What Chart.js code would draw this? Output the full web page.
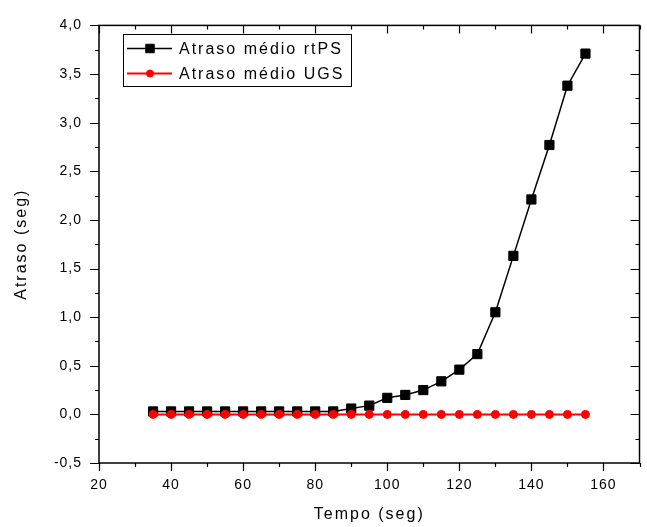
<!DOCTYPE html>
<html>
<head>
<meta charset="utf-8">
<script src="https://cdn.jsdelivr.net/npm/chart.js@4"></script>
<style>
  html, body { margin: 0; background: #fff; }
  #wrap { width: 647px; height: 527px; }
</style>
</head>
<body>
<div id="wrap"><canvas id="chart"></canvas></div>
<script>
// ==================== DATA ====================
const tempo = [35, 40, 45, 50, 55, 60, 65, 70, 75, 80, 85, 90, 95, 100, 105, 110, 115, 120, 125, 130, 135, 140, 145, 150, 155];
const atrasoRtps = [0.03, 0.03, 0.03, 0.03, 0.03, 0.03, 0.03, 0.03, 0.03, 0.03, 0.03, 0.06, 0.09, 0.17, 0.20, 0.25, 0.34, 0.46, 0.62, 1.05, 1.63, 2.21, 2.77, 3.38, 3.71];
const atrasoUgs = [0, 0, 0, 0, 0, 0, 0, 0, 0, 0, 0, 0, 0, 0, 0, 0, 0, 0, 0, 0, 0, 0, 0, 0, 0];
const xTicks = [20, 40, 60, 80, 100, 120, 140, 160];
const yTicks = [-0.5, 0, 0.5, 1, 1.5, 2, 2.5, 3, 3.5, 4];
const seriesNames = ["Atraso médio rtPS", "Atraso médio UGS"];

const FONT = "'Liberation Sans', Arial, sans-serif";

// ==================== PLUGIN: frame, ticks, titles, legend ====================
const framePlugin = {
  id: 'frame',
  beforeDraw(chart) {
    const ctx = chart.ctx;
    ctx.save();
    ctx.fillStyle = '#fff';
    ctx.fillRect(0, 0, chart.width, chart.height);
    ctx.restore();
    ctx.letterSpacing = '1px';
  },
  afterDraw(chart) {
    const ctx = chart.ctx;
    const a = chart.chartArea;
    const xs = chart.scales.x, ys = chart.scales.y;
    ctx.save();
    ctx.letterSpacing = '0px';
    ctx.strokeStyle = '#000';
    ctx.lineWidth = 1.5;
    ctx.strokeRect(a.left, a.top, a.right - a.left, a.bottom - a.top);

    ctx.lineWidth = 1.2;
    ctx.beginPath();
    for (let v = 20; v <= 170; v += 10) {
      const px = Math.round(xs.getPixelForValue(v)) + 0.5;
      const len = v % 20 === 0 ? 8 : 4;
      ctx.moveTo(px, a.bottom); ctx.lineTo(px, a.bottom + len);
      ctx.moveTo(px, a.top); ctx.lineTo(px, a.top + len);
    }
    for (let i = -2; i <= 16; i++) {
      const v = i * 0.25;
      const py = Math.round(ys.getPixelForValue(v)) + 0.5;
      const len = i % 2 === 0 ? 9 : 4;
      ctx.moveTo(a.left, py); ctx.lineTo(a.left - len, py);
      ctx.moveTo(a.right, py); ctx.lineTo(a.right - len, py);
    }
    ctx.stroke();

    // axis titles
    ctx.fillStyle = '#000';
    ctx.font = '16px ' + FONT;
    ctx.letterSpacing = '2px';
    ctx.textAlign = 'center';
    ctx.textBaseline = 'middle';
    ctx.fillText('Tempo (seg)', (a.left + a.right) / 2, 515);
    ctx.save();
    ctx.translate(22, (a.top + a.bottom) / 2);
    ctx.rotate(-Math.PI / 2);
    ctx.fillText('Atraso (seg)', 0, 0);
    ctx.restore();

    // legend box
    const bx = 123, by = 34, bw = 228, bh = 52;
    ctx.lineWidth = 1;
    ctx.strokeRect(bx + 0.5, by + 0.5, bw, bh);
    chart.data.datasets.forEach((ds, i) => {
      const cy = 48.5 + i * 25;
      ctx.strokeStyle = ds.borderColor;
      ctx.lineWidth = ds.borderWidth;
      ctx.beginPath();
      ctx.moveTo(127, cy); ctx.lineTo(172, cy);
      ctx.stroke();
      ctx.fillStyle = ds.pointBackgroundColor;
      ctx.strokeStyle = ds.pointBorderColor;
      ctx.lineWidth = 1;
      Chart.helpers.drawPoint(ctx, { pointStyle: ds.pointStyle, radius: ds.pointRadius - 0.5, borderWidth: 1 }, 150, cy);
      ctx.fillStyle = '#000';
      ctx.textAlign = 'left';
      ctx.fillText(seriesNames[i], 179, cy + 1);
    });
    ctx.restore();
  }
};

// ==================== CHART ====================
const ctxEl = document.getElementById('chart');
new Chart(ctxEl, {
  type: 'line',
  data: {
    datasets: [
      {
        label: seriesNames[0],
        data: tempo.map((t, i) => ({ x: t, y: atrasoRtps[i] })),
        borderColor: '#000',
        borderWidth: 1.5,
        pointStyle: 'rect',
        pointRadius: 6.5,
        pointBackgroundColor: '#000',
        pointBorderColor: '#000',
        pointBorderWidth: 1,
        tension: 0,
        order: 1
      },
      {
        label: seriesNames[1],
        data: tempo.map((t, i) => ({ x: t, y: atrasoUgs[i] })),
        borderColor: '#ff0000',
        borderWidth: 2,
        pointStyle: 'circle',
        pointRadius: 4,
        pointBackgroundColor: '#ff0000',
        pointBorderColor: '#ff0000',
        pointBorderWidth: 1,
        tension: 0,
        order: 0
      }
    ]
  },
  options: {
    responsive: true,
    maintainAspectRatio: false,
    animation: false,
    layout: { padding: { top: 19, right: 5, left: 0, bottom: 0 } },
    plugins: { legend: { display: false }, tooltip: { enabled: false } },
    scales: {
      x: {
        type: 'linear',
        min: 20,
        max: 170,
        afterBuildTicks: s => { s.ticks = xTicks.map(v => ({ value: v })); },
        afterFit: s => { s.height = 64; },
        grid: { display: false, drawTicks: false },
        border: { display: false },
        ticks: {
          color: '#000',
          padding: 14,
          maxRotation: 0,
          font: { family: FONT, size: 14 },
          callback: v => String(v)
        }
      },
      y: {
        min: -0.5,
        max: 4,
        afterBuildTicks: s => { s.ticks = yTicks.map(v => ({ value: v })); },
        afterFit: s => { s.width = 99; },
        grid: { display: false, drawTicks: false },
        border: { display: false },
        ticks: {
          color: '#000',
          padding: 17,
          font: { family: FONT, size: 14 },
          callback: v => v.toFixed(1).replace('.', ',')
        }
      }
    }
  },
  plugins: [framePlugin]
});
</script>
</body>
</html>
